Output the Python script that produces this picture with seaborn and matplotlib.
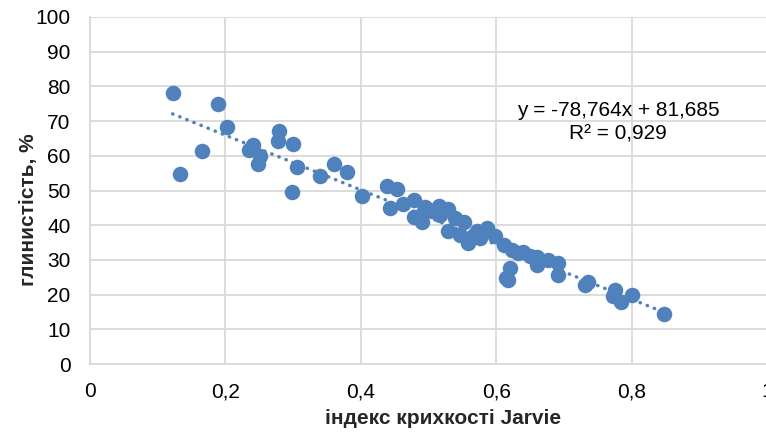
import numpy as np
import pandas as pd
import matplotlib
matplotlib.use('Agg')
import matplotlib.pyplot as plt
import seaborn as sns

# індекс крихкості Jarvie (x) та глинистість, % (y)
jarvie = [0.122, 0.189, 0.203, 0.166, 0.133, 0.241, 0.235, 0.251, 0.248,
          0.279, 0.277, 0.300, 0.306, 0.299, 0.340, 0.360, 0.380, 0.402,
          0.438, 0.443, 0.454, 0.463, 0.478, 0.478, 0.490, 0.495, 0.492,
          0.515, 0.517, 0.529, 0.529, 0.539, 0.552, 0.547, 0.559, 0.571,
          0.586, 0.598, 0.576, 0.611, 0.623, 0.640, 0.660, 0.660, 0.677,
          0.692, 0.692, 0.620, 0.615, 0.618, 0.736, 0.731, 0.776, 0.773,
          0.784, 0.800, 0.848, 0.505, 0.565, 0.632, 0.650]
clay = [78.0, 74.8, 68.4, 61.3, 54.8, 63.1, 61.7, 59.9, 57.6,
        67.1, 64.2, 63.5, 56.7, 49.6, 54.2, 57.6, 55.3, 48.5,
        51.3, 45.0, 50.3, 46.1, 47.4, 42.5, 41.0, 45.3, 43.4,
        45.5, 42.9, 44.6, 38.2, 42.0, 41.0, 37.2, 34.8, 38.2,
        39.1, 36.9, 36.2, 34.3, 32.9, 32.4, 30.9, 28.5, 30.0,
        29.0, 25.6, 27.6, 24.7, 24.2, 23.7, 22.8, 21.3, 19.6,
        18.0, 19.9, 14.4, 44.0, 37.0, 32.0, 31.0]

# лінійний тренд з підпису на графіку
slope = -78.764
intercept = 81.685
eq_text = "y = -78,764x + 81,685\nR² = 0,929"

x_ticks = [0, 0.2, 0.4, 0.6, 0.8, 1]
x_ticklabels = ["0", "0,2", "0,4", "0,6", "0,8", "1"]
y_ticks = list(range(0, 101, 10))

df = pd.DataFrame({'jarvie': jarvie, 'clay': clay})

sns.set_style("white")
plt.rcParams['font.family'] = ['Liberation Sans', 'DejaVu Sans']

blue = '#4F81BD'
grid = '#D9D9D9'
fs = 15

fig = plt.figure(figsize=(7.66, 4.32), dpi=100)
ax = fig.add_axes([90 / 766, 1 - 364 / 432, 677 / 766, 347 / 432])

sns.scatterplot(x='jarvie', y='clay', data=df, color=blue, s=125,
                linewidth=0, ax=ax, zorder=3)

xt = np.array([min(jarvie), max(jarvie)])
ax.plot(xt, slope * xt + intercept, color=blue, lw=2.5,
        linestyle=(0, (0.1, 2.1)), dash_capstyle='round', zorder=4)

ax.text(0.78, 69.7, eq_text, ha='center', va='center', fontsize=fs,
        color='#000000', linespacing=1.3)

ax.set_xlim(0, 1)
ax.set_ylim(0, 100)
ax.set_xticks(x_ticks)
ax.set_xticklabels(x_ticklabels)
ax.set_yticks(y_ticks)
ax.tick_params(length=0, labelsize=fs, colors='#000000')
ax.tick_params(axis='y', pad=14)
ax.tick_params(axis='x', pad=13)
ax.grid(True, color=grid, lw=1.3)
ax.set_axisbelow(True)
for side in ['top', 'right']:
    ax.spines[side].set_visible(False)
for side in ['left', 'bottom']:
    ax.spines[side].set_color(grid)
    ax.spines[side].set_linewidth(1.3)

ax.set_xlabel("індекс крихкості Jarvie", fontsize=fs, fontweight='bold')
ax.set_ylabel("глинистість, %", fontsize=fs, fontweight='bold')
ax.xaxis.set_label_coords(0.521, -0.13)
ax.yaxis.set_label_coords(-0.077, 0.444)

plt.savefig('out.png', dpi=100)
